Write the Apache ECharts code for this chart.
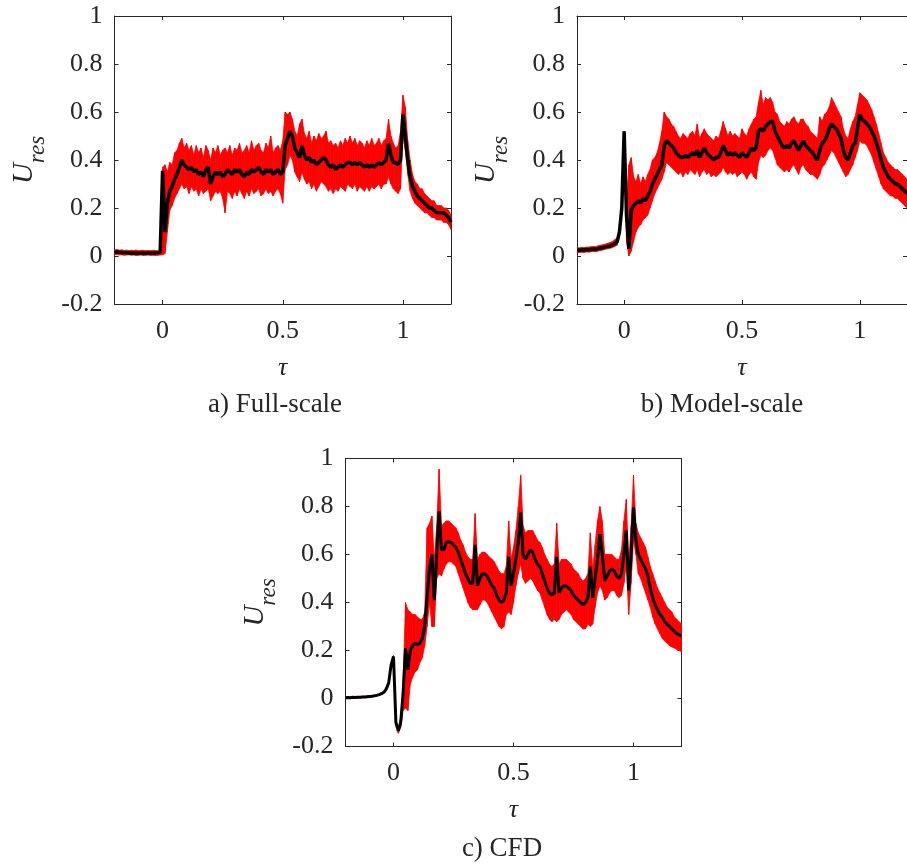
<!DOCTYPE html>
<html><head><meta charset="utf-8">
<script src="https://cdn.jsdelivr.net/npm/echarts@6/dist/echarts.min.js"></script>
<style>html,body{margin:0;padding:0;background:#fff}#c{width:907px;height:865px}</style>
</head><body><div id="c"></div>
<script>
const TAU = [-0.2,-0.19,-0.18,-0.17,-0.16,-0.15,-0.14,-0.13,-0.12,-0.11,-0.1,-0.09,-0.08,-0.07,-0.06,-0.05,-0.04,-0.03,-0.02,-0.01,
0,0.01,0.02,0.03,0.04,0.05,0.06,0.07,0.08,0.09,0.1,0.11,0.12,0.13,0.14,0.15,0.16,0.17,0.18,0.19,
0.2,0.21,0.22,0.23,0.24,0.25,0.26,0.27,0.28,0.29,0.3,0.31,0.32,0.33,0.34,0.35,0.36,0.37,0.38,0.39,
0.4,0.41,0.42,0.43,0.44,0.45,0.46,0.47,0.48,0.49,0.5,0.51,0.52,0.53,0.54,0.55,0.56,0.57,0.58,0.59,
0.6,0.61,0.62,0.63,0.64,0.65,0.66,0.67,0.68,0.69,0.7,0.71,0.72,0.73,0.74,0.75,0.76,0.77,0.78,0.79,
0.8,0.81,0.82,0.83,0.84,0.85,0.86,0.87,0.88,0.89,0.9,0.91,0.92,0.93,0.94,0.95,0.96,0.97,0.98,0.99,
1,1.01,1.02,1.03,1.04,1.05,1.06,1.07,1.08,1.09,1.1,1.11,1.12,1.13,1.14,1.15,1.16,1.17,1.18,1.19,1.2];

// a) Full-scale
const A_MID = [0.015,0.017,0.016,0.014,0.015,0.013,0.014,0.012,0.013,0.012,0.011,0.012,0.013,0.011,0.012,0.012,0.013,0.012,0.013,0.015,
0.355,0.10,0.22,0.27,0.29,0.32,0.34,0.37,0.40,0.38,
0.37,0.36,0.37,0.35,0.36,0.34,0.35,0.33,0.36,0.37,
0.30,0.33,0.35,0.34,0.35,0.33,0.34,0.36,0.35,0.34,
0.36,0.35,0.36,0.34,0.33,0.35,0.34,0.36,0.35,0.36,
0.37,0.35,0.34,0.36,0.35,0.36,0.34,0.35,0.36,0.34,
0.35,0.46,0.49,0.52,0.50,0.45,0.43,0.41,0.46,0.42,
0.40,0.41,0.39,0.40,0.38,0.39,0.40,0.41,0.40,0.38,
0.37,0.38,0.36,0.37,0.38,0.37,0.38,0.39,0.39,0.38,
0.39,0.38,0.39,0.38,0.37,0.38,0.37,0.38,0.37,0.38,
0.39,0.38,0.39,0.40,0.47,0.42,0.39,0.39,0.38,0.40,
0.59,0.50,0.40,0.33,0.29,0.27,0.25,0.24,0.23,0.22,
0.21,0.20,0.20,0.19,0.18,0.18,0.18,0.18,0.17,0.16,0.14];
const A_HI = [0.025,0.027,0.024,0.026,0.023,0.025,0.022,0.024,0.023,0.025,0.022,0.023,0.024,0.022,0.023,0.022,0.024,0.023,0.022,0.025,
0.37,0.38,0.35,0.39,0.38,0.43,0.44,0.47,0.49,0.45,
0.47,0.44,0.46,0.42,0.46,0.43,0.45,0.41,0.46,0.44,
0.40,0.45,0.43,0.46,0.42,0.44,0.45,0.43,0.46,0.42,
0.45,0.44,0.47,0.43,0.44,0.46,0.43,0.48,0.44,0.46,
0.47,0.44,0.43,0.47,0.45,0.50,0.43,0.45,0.46,0.44,
0.48,0.60,0.59,0.60,0.57,0.52,0.50,0.55,0.57,0.51,
0.49,0.52,0.47,0.50,0.48,0.51,0.49,0.50,0.52,0.47,
0.48,0.46,0.47,0.45,0.48,0.46,0.49,0.47,0.50,0.47,
0.49,0.46,0.48,0.47,0.45,0.48,0.46,0.49,0.46,0.47,
0.49,0.46,0.48,0.49,0.57,0.50,0.47,0.45,0.46,0.52,
0.67,0.62,0.48,0.40,0.34,0.31,0.30,0.28,0.28,0.26,
0.25,0.24,0.23,0.23,0.21,0.21,0.21,0.20,0.20,0.19,0.17];
const A_LO = [0.005,0.006,0.004,0.005,0.003,0.004,0.005,0.003,0.004,0.002,0.003,0.004,0.002,0.003,0.004,0.002,0.003,0.002,0.003,0.004,
0.005,0.01,0.10,0.19,0.21,0.24,0.26,0.28,0.30,0.28,
0.29,0.26,0.29,0.27,0.28,0.25,0.28,0.26,0.27,0.28,
0.23,0.25,0.27,0.26,0.27,0.24,0.18,0.27,0.26,0.24,
0.27,0.25,0.28,0.26,0.24,0.27,0.25,0.28,0.26,0.27,
0.28,0.25,0.26,0.28,0.26,0.27,0.25,0.27,0.28,0.26,
0.22,0.36,0.38,0.42,0.40,0.35,0.33,0.31,0.35,0.32,
0.30,0.31,0.28,0.30,0.27,0.29,0.31,0.30,0.29,0.27,
0.28,0.26,0.28,0.27,0.29,0.28,0.27,0.30,0.29,0.28,
0.30,0.27,0.29,0.28,0.27,0.29,0.27,0.29,0.28,0.29,
0.30,0.28,0.30,0.30,0.33,0.30,0.28,0.27,0.26,0.28,
0.50,0.44,0.34,0.27,0.24,0.22,0.21,0.20,0.19,0.18,
0.18,0.17,0.16,0.16,0.15,0.15,0.15,0.14,0.14,0.13,0.11];

// b) Model-scale
const B_MID = [0.025,0.024,0.026,0.025,0.027,0.026,0.028,0.029,0.028,0.031,0.033,0.035,0.038,0.040,0.042,0.045,0.052,0.058,0.10,0.20,
0.52,0.17,0.03,0.19,0.21,0.22,0.23,0.22,0.24,0.23,
0.25,0.27,0.30,0.32,0.34,0.36,0.38,0.46,0.48,0.47,
0.46,0.45,0.43,0.42,0.41,0.41,0.42,0.41,0.42,0.43,
0.42,0.44,0.41,0.43,0.45,0.43,0.42,0.41,0.40,0.41,
0.41,0.43,0.46,0.44,0.42,0.43,0.42,0.43,0.42,0.41,
0.43,0.42,0.41,0.43,0.45,0.44,0.45,0.52,0.53,0.52,
0.54,0.55,0.56,0.56,0.52,0.50,0.48,0.46,0.45,0.46,
0.45,0.47,0.48,0.46,0.44,0.46,0.48,0.46,0.45,0.44,
0.43,0.41,0.40,0.44,0.47,0.48,0.50,0.53,0.55,0.54,
0.53,0.51,0.49,0.44,0.41,0.40,0.43,0.46,0.47,0.53,
0.59,0.57,0.56,0.55,0.54,0.52,0.50,0.47,0.44,0.40,
0.37,0.35,0.33,0.32,0.31,0.30,0.30,0.29,0.28,0.27,0.26];
const B_HI = [0.035,0.034,0.036,0.035,0.037,0.037,0.039,0.040,0.039,0.043,0.045,0.047,0.050,0.053,0.056,0.060,0.068,0.075,0.11,0.21,
0.52,0.22,0.38,0.41,0.33,0.31,0.34,0.30,0.33,0.31,
0.34,0.36,0.40,0.41,0.43,0.47,0.52,0.60,0.58,0.57,
0.55,0.54,0.52,0.50,0.49,0.51,0.50,0.49,0.51,0.52,
0.50,0.55,0.49,0.51,0.53,0.51,0.50,0.49,0.48,0.50,
0.49,0.52,0.56,0.53,0.50,0.52,0.50,0.51,0.50,0.49,
0.53,0.51,0.50,0.53,0.55,0.57,0.58,0.64,0.69,0.63,
0.66,0.65,0.66,0.64,0.60,0.59,0.56,0.55,0.54,0.56,
0.55,0.57,0.58,0.56,0.55,0.57,0.57,0.55,0.54,0.52,
0.51,0.50,0.49,0.58,0.56,0.59,0.60,0.62,0.66,0.64,
0.62,0.60,0.58,0.53,0.50,0.49,0.53,0.56,0.58,0.63,
0.68,0.67,0.66,0.65,0.63,0.61,0.58,0.55,0.51,0.47,
0.43,0.41,0.39,0.38,0.37,0.36,0.36,0.35,0.34,0.33,0.32];
const B_LO = [0.015,0.014,0.016,0.015,0.017,0.016,0.018,0.019,0.018,0.021,0.023,0.025,0.028,0.030,0.032,0.035,0.040,0.045,0.08,0.18,
0.50,0.06,0.00,0.02,0.06,0.10,0.12,0.13,0.15,0.16,
0.17,0.20,0.23,0.26,0.28,0.30,0.32,0.35,0.39,0.38,
0.37,0.36,0.35,0.34,0.35,0.33,0.35,0.34,0.36,0.35,
0.34,0.36,0.33,0.35,0.36,0.34,0.35,0.33,0.34,0.33,
0.34,0.35,0.37,0.35,0.34,0.35,0.34,0.35,0.33,0.34,
0.35,0.34,0.32,0.34,0.35,0.33,0.32,0.39,0.42,0.41,
0.42,0.44,0.45,0.44,0.41,0.38,0.37,0.36,0.35,0.36,
0.35,0.37,0.38,0.36,0.34,0.37,0.38,0.36,0.35,0.34,
0.34,0.33,0.32,0.34,0.37,0.38,0.40,0.42,0.44,0.43,
0.41,0.39,0.37,0.35,0.33,0.34,0.36,0.38,0.41,0.44,
0.48,0.47,0.47,0.46,0.44,0.42,0.39,0.36,0.33,0.30,
0.28,0.27,0.26,0.25,0.25,0.24,0.24,0.23,0.22,0.21,0.20];

// c) CFD
const C_MID = [0.003,0.004,0.003,0.005,0.004,0.005,0.005,0.006,0.006,0.007,0.008,0.009,0.011,0.013,0.016,0.020,0.026,0.040,0.065,0.14,
0.175,-0.10,-0.135,-0.10,0.02,0.21,0.12,0.20,0.22,0.23,
0.225,0.23,0.25,0.30,0.42,0.54,0.60,0.41,0.60,0.78,
0.62,0.62,0.65,0.655,0.65,0.64,0.63,0.61,0.58,0.55,
0.52,0.50,0.48,0.48,0.64,0.47,0.50,0.52,0.52,0.51,
0.49,0.47,0.46,0.43,0.41,0.40,0.41,0.44,0.59,0.47,
0.52,0.58,0.65,0.775,0.60,0.58,0.60,0.62,0.61,0.58,
0.56,0.55,0.52,0.49,0.46,0.44,0.43,0.44,0.59,0.44,
0.46,0.47,0.47,0.46,0.45,0.43,0.42,0.41,0.40,0.39,
0.40,0.42,0.55,0.42,0.50,0.58,0.685,0.60,0.49,0.51,
0.53,0.54,0.53,0.51,0.50,0.52,0.60,0.70,0.45,0.60,
0.796,0.66,0.60,0.58,0.56,0.54,0.51,0.46,0.42,0.39,
0.37,0.35,0.34,0.32,0.31,0.30,0.29,0.28,0.27,0.265,0.26];
const C_HI = [0.006,0.007,0.006,0.008,0.007,0.008,0.008,0.009,0.009,0.010,0.011,0.012,0.014,0.016,0.019,0.023,0.029,0.043,0.068,0.145,
0.18,-0.09,-0.125,-0.08,0.06,0.40,0.37,0.36,0.35,0.35,
0.34,0.33,0.33,0.36,0.71,0.73,0.76,0.58,0.72,0.955,
0.72,0.73,0.74,0.74,0.73,0.72,0.71,0.69,0.66,0.64,
0.61,0.59,0.58,0.58,0.77,0.58,0.60,0.61,0.61,0.60,
0.59,0.58,0.57,0.55,0.53,0.52,0.52,0.55,0.74,0.58,
0.63,0.70,0.80,0.93,0.72,0.69,0.70,0.70,0.70,0.68,
0.66,0.65,0.63,0.60,0.58,0.56,0.55,0.56,0.73,0.56,
0.58,0.58,0.58,0.57,0.56,0.54,0.53,0.52,0.50,0.49,
0.50,0.52,0.69,0.54,0.64,0.74,0.80,0.74,0.60,0.60,
0.60,0.60,0.59,0.58,0.58,0.62,0.74,0.83,0.56,0.72,
0.93,0.73,0.69,0.67,0.65,0.63,0.59,0.55,0.52,0.49,
0.46,0.44,0.42,0.40,0.38,0.37,0.36,0.34,0.33,0.32,0.31];
const C_LO = [0.000,0.001,0.000,0.002,0.001,0.002,0.002,0.003,0.003,0.004,0.005,0.006,0.008,0.010,0.013,0.017,0.023,0.037,0.062,0.135,
0.165,-0.11,-0.145,-0.12,-0.05,-0.04,-0.05,0.06,0.09,0.11,
0.12,0.15,0.17,0.22,0.30,0.40,0.30,0.30,0.50,0.52,
0.51,0.54,0.56,0.57,0.57,0.56,0.55,0.52,0.49,0.46,
0.43,0.40,0.38,0.37,0.37,0.37,0.39,0.41,0.41,0.40,
0.38,0.36,0.34,0.32,0.30,0.29,0.30,0.35,0.36,0.35,
0.40,0.47,0.52,0.56,0.50,0.48,0.49,0.50,0.49,0.47,
0.45,0.44,0.41,0.38,0.35,0.33,0.32,0.33,0.32,0.33,
0.35,0.36,0.37,0.36,0.35,0.33,0.32,0.31,0.30,0.29,
0.29,0.31,0.30,0.31,0.38,0.44,0.47,0.45,0.41,0.42,
0.44,0.45,0.45,0.43,0.42,0.43,0.48,0.56,0.35,0.48,
0.66,0.60,0.52,0.50,0.47,0.44,0.41,0.38,0.34,0.31,
0.29,0.27,0.25,0.24,0.23,0.22,0.215,0.21,0.205,0.20,0.195];

const X_TICKS = [0, 0.5, 1];
const Y_TICKS = [-0.2, 0, 0.2, 0.4, 0.6, 0.8, 1];
const CAPTIONS = ['a) Full-scale', 'b) Model-scale', 'c) CFD'];

const PANELS = [
  {mid: A_MID, hi: A_HI, lo: A_LO},
  {mid: B_MID, hi: B_HI, lo: B_LO},
  {mid: C_MID, hi: C_HI, lo: C_LO}
];
PANELS.forEach(function (p, k) {
  [p.mid, p.hi, p.lo].forEach(function (arr, j) {
    if (arr.length !== TAU.length) throw new Error('length mismatch panel ' + k + ' arr ' + j + ': ' + arr.length);
  });
});

const FONT = 'Liberation Serif';
const AX = '#262626';
const GRIDS = [
  {left: 114.5, top: 16, width: 336.5, height: 288},
  {left: 577, top: 16, width: 337, height: 288},
  {left: 345.5, top: 458.5, width: 336, height: 288}
];
const CAP_POS = [[275, 405], [722, 405], [502, 849]];

function bandItem(params, api) {
  const p0 = api.coord([api.value(0), api.value(1)]);
  const p1 = api.coord([api.value(0), api.value(2)]);
  const p2 = api.coord([api.value(3), api.value(5)]);
  const p3 = api.coord([api.value(3), api.value(4)]);
  return {
    type: 'polygon',
    shape: {points: [p0, p1, p2, p3]},
    style: {fill: '#ff0000', stroke: '#ff0000', lineWidth: 0.8}
  };
}

const xAxes = [], yAxes = [], series = [];
GRIDS.forEach(function (g, k) {
  xAxes.push({
    gridIndex: k, type: 'value', min: -0.2, max: 1.2, position: 'bottom',
    axisLine: {show: true, onZero: false, lineStyle: {color: AX, width: 1}},
    axisTick: {show: true, inside: true, length: 4, customValues: X_TICKS, lineStyle: {color: AX}},
    axisLabel: {show: true, customValues: X_TICKS, margin: 14, fontFamily: FONT, fontSize: 26, color: AX},
    splitLine: {show: false},
    name: 'τ', nameLocation: 'middle', nameGap: 51,
    nameTextStyle: {fontFamily: FONT, fontStyle: 'italic', fontSize: 26, color: AX}
  });
  xAxes.push({
    gridIndex: k, type: 'value', min: -0.2, max: 1.2, position: 'top',
    axisLine: {show: true, onZero: false, lineStyle: {color: AX, width: 1}},
    axisTick: {show: true, inside: true, length: 4, customValues: X_TICKS, lineStyle: {color: AX}},
    axisLabel: {show: false}, splitLine: {show: false}
  });
  yAxes.push({
    gridIndex: k, type: 'value', min: -0.2, max: 1, position: 'left',
    axisLine: {show: true, onZero: false, lineStyle: {color: AX, width: 1}},
    axisTick: {show: true, inside: true, length: 4, customValues: Y_TICKS, lineStyle: {color: AX}},
    axisLabel: {show: true, customValues: Y_TICKS, margin: 12, fontFamily: FONT, fontSize: 26, color: AX},
    splitLine: {show: false},
    name: '{u|U}{s|res}', nameLocation: 'middle', nameRotate: 90, nameGap: 65,
    nameTextStyle: {
      rich: {
        u: {fontFamily: FONT, fontStyle: 'italic', fontSize: 29, color: AX},
        s: {fontFamily: FONT, fontStyle: 'italic', fontSize: 23, color: AX, padding: [28, 0, 0, 0]}
      }
    }
  });
  yAxes.push({
    gridIndex: k, type: 'value', min: -0.2, max: 1, position: 'right',
    axisLine: {show: true, onZero: false, lineStyle: {color: AX, width: 1}},
    axisTick: {show: true, inside: true, length: 4, customValues: Y_TICKS, lineStyle: {color: AX}},
    axisLabel: {show: false}, splitLine: {show: false}
  });
  const p = PANELS[k];
  const xi = 2 * k, yi = 2 * k;
  const bandData = [];
  for (let i = 0; i < TAU.length - 1; i++) {
    bandData.push([TAU[i], p.lo[i], p.hi[i], TAU[i + 1], p.lo[i + 1], p.hi[i + 1]]);
  }
  series.push({
    type: 'custom', coordinateSystem: 'cartesian2d', xAxisIndex: xi, yAxisIndex: yi,
    data: bandData, renderItem: bandItem, clip: true, silent: true, z: 2,
    encode: {x: [0, 3], y: [1, 2, 4, 5]}
  });
  series.push({
    type: 'line', xAxisIndex: xi, yAxisIndex: yi,
    data: TAU.map(function (t, i) { return [t, p.mid[i]]; }),
    symbol: 'none', silent: true, lineStyle: {width: k === 2 ? 3 : 3.5, color: '#000000'}, z: 3
  });
});

const graphics = CAPTIONS.map(function (txt, k) {
  return {
    type: 'text', x: CAP_POS[k][0], y: CAP_POS[k][1],
    style: {text: txt, fontFamily: FONT, fontSize: 27, fill: AX, align: 'center', verticalAlign: 'middle'}
  };
});

const chart = echarts.init(document.getElementById('c'), null, {renderer: 'canvas'});
chart.setOption({
  animation: false,
  backgroundColor: '#ffffff',
  grid: GRIDS,
  xAxis: xAxes,
  yAxis: yAxes,
  series: series,
  graphic: graphics
});
</script></body></html>
